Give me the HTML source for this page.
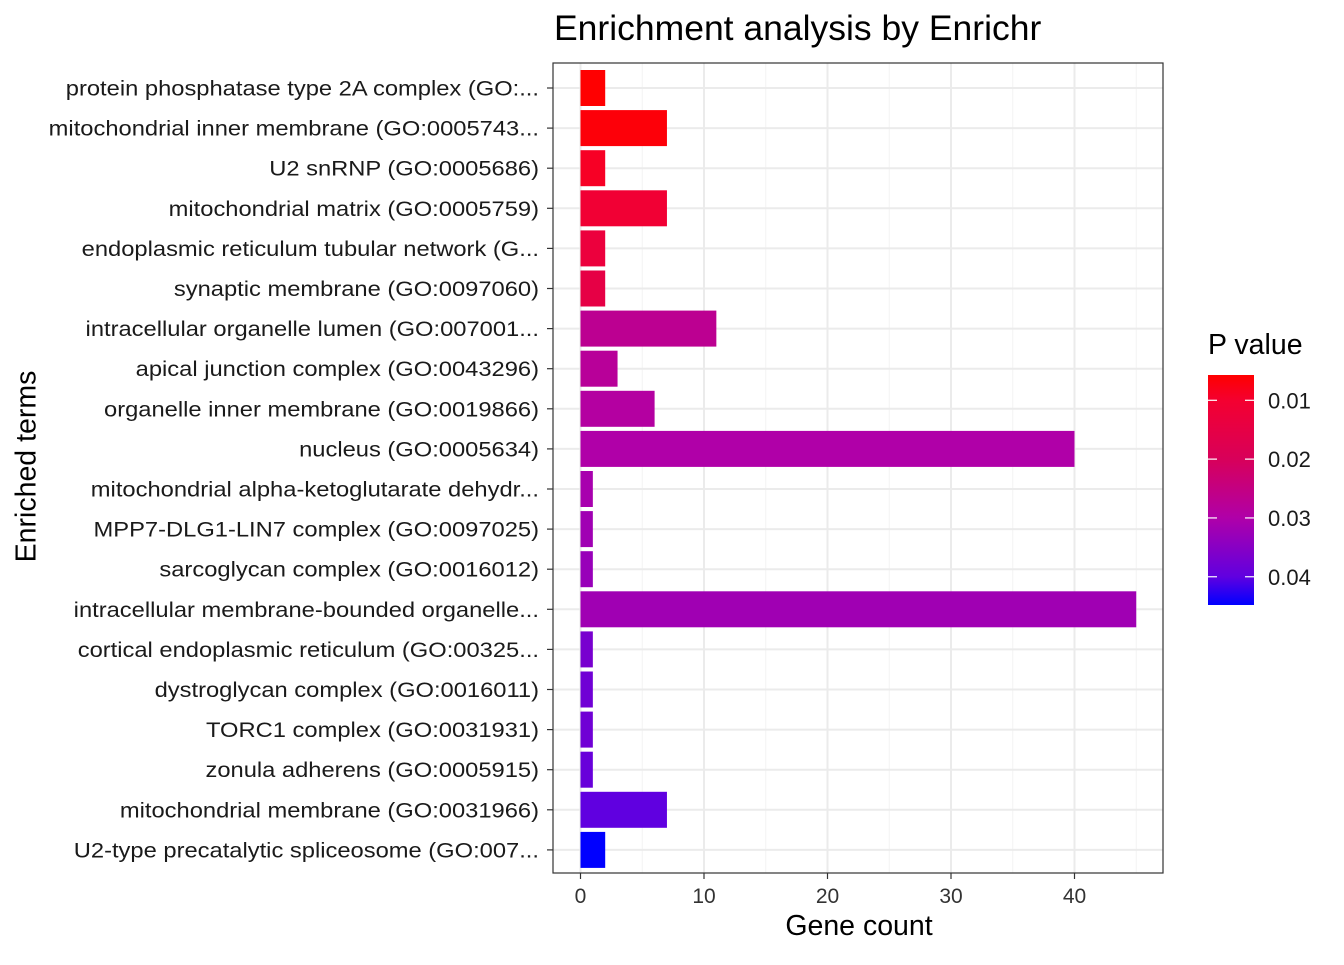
<!DOCTYPE html>
<html><head><meta charset="utf-8"><style>
body{margin:0;background:#fff;font-family:"Liberation Sans",sans-serif}
svg text{font-family:"Liberation Sans",sans-serif}
</style></head><body>
<svg id="chart" width="1344" height="960">
<defs><linearGradient id="cg" x1="0" y1="0" x2="0" y2="1">
<stop offset="0" stop-color="#FF0000"/><stop offset="0.11" stop-color="#F40030"/><stop offset="0.366" stop-color="#D8005A"/><stop offset="0.62" stop-color="#B000A8"/><stop offset="0.877" stop-color="#6000E0"/><stop offset="1" stop-color="#0000FF"/></linearGradient></defs>
<g id="grid"></g><g id="bars"></g><g id="axes"></g>
</svg>
<script>
const terms=["protein phosphatase type 2A complex (GO:...","mitochondrial inner membrane (GO:0005743...","U2 snRNP (GO:0005686)","mitochondrial matrix (GO:0005759)","endoplasmic reticulum tubular network (G...","synaptic membrane (GO:0097060)","intracellular organelle lumen (GO:007001...","apical junction complex (GO:0043296)","organelle inner membrane (GO:0019866)","nucleus (GO:0005634)","mitochondrial alpha-ketoglutarate dehydr...","MPP7-DLG1-LIN7 complex (GO:0097025)","sarcoglycan complex (GO:0016012)","intracellular membrane-bounded organelle...","cortical endoplasmic reticulum (GO:00325...","dystroglycan complex (GO:0016011)","TORC1 complex (GO:0031931)","zonula adherens (GO:0005915)","mitochondrial membrane (GO:0031966)","U2-type precatalytic spliceosome (GO:007..."];
const counts=[2,7,2,7,2,2,11,3,6,40,1,1,1,45,1,1,1,1,7,2];
const pvals=[0.0058,0.0065,0.009,0.011,0.013,0.015,0.027,0.028,0.029,0.030,0.031,0.032,0.033,0.032,0.037,0.038,0.038,0.039,0.040,0.0448];
const xTicks=[0,10,20,30,40];
const legendTicks=[0.01,0.02,0.03,0.04];
const NS="http://www.w3.org/2000/svg";
const X0=553,X1=1163,Y0=63,Y1=873;
const xs=v=>580.5+v*12.35;
const ys=i=>88+40.1*i;
const pMin=0.0057,pMax=0.0448;
const stops=[[0,[255,0,0]],[0.11,[244,0,48]],[0.366,[216,0,90]],[0.62,[176,0,168]],[0.877,[96,0,224]],[1,[0,0,255]]];
function col(p){let t=Math.max(0,Math.min(1,(p-pMin)/(pMax-pMin)));for(let k=1;k<stops.length;k++){if(t<=stops[k][0]){const a=stops[k-1],b=stops[k],f=(t-a[0])/(b[0]-a[0]);return "rgb("+a[1].map((c,j)=>Math.round(c+(b[1][j]-c)*f)).join(",")+")";}}return "rgb(0,0,255)";}
function mk(tag,at,parent,txt){const e=document.createElementNS(NS,tag);for(const k in at)e.setAttribute(k,at[k]);if(txt!==undefined)e.textContent=txt;parent.appendChild(e);return e;}
const G=document.getElementById('grid'),B=document.getElementById('bars'),A=document.getElementById('axes');
mk('rect',{x:X0,y:Y0,width:X1-X0,height:Y1-Y0,fill:'#fff'},G);
for(let v=5;v<=45;v+=10){const l=mk('line',{x1:xs(v),x2:xs(v),y1:Y0,y2:Y1,stroke:'#F3F3F3','stroke-width':1},G);}
xTicks.forEach(v=>{const l=mk('line',{x1:xs(v),x2:xs(v),y1:Y0,y2:Y1,stroke:'#EBEBEB','stroke-width':2},G);});
terms.forEach((t,i)=>{const l=mk('line',{x1:X0,x2:X1,y1:ys(i),y2:ys(i),stroke:'#EBEBEB','stroke-width':2},G);});
terms.forEach((t,i)=>{
const r=mk('rect',{x:xs(0),y:ys(i)-18,width:xs(counts[i])-xs(0),height:36,fill:col(pvals[i])},B);


const tx=mk('text',{x:0,y:0,'text-anchor':'end','font-size':21,fill:'#1a1a1a',transform:'translate(539,'+(ys(i)+7.5)+') scale(1.13,1)'},A,t);


mk('line',{x1:547,x2:553,y1:ys(i),y2:ys(i),stroke:'#333','stroke-width':1.2},A);
});
mk('rect',{x:X0,y:Y0,width:X1-X0,height:Y1-Y0,fill:'none',stroke:'#333','stroke-width':1.2},A);
xTicks.forEach(v=>{mk('line',{x1:xs(v),x2:xs(v),y1:Y1,y2:Y1+6,stroke:'#333','stroke-width':1.2},A);
const t=mk('text',{x:xs(v),y:903,'text-anchor':'middle','font-size':21,fill:'#333'},A,v);

});
const cb=mk('rect',{x:1208,y:375,width:46,height:230,fill:'url(#cg)'},A);


const ly=p=>375+(p-pMin)/(pMax-pMin)*230;
legendTicks.forEach(p=>{mk('line',{x1:1208,x2:1217,y1:ly(p),y2:ly(p),stroke:'#fff','stroke-width':1.2},A);mk('line',{x1:1245,x2:1254,y1:ly(p),y2:ly(p),stroke:'#fff','stroke-width':1.2},A);
const t=mk('text',{x:1268,y:ly(p)+8,'font-size':22,fill:'#1a1a1a'},A,p.toFixed(2));

});
</script>
<div style="position:absolute;left:0;top:0;width:1344px;height:960px;pointer-events:none">
<div style="position:absolute;left:554px;top:8px;font-size:35.5px;color:#000;white-space:nowrap">Enrichment analysis by Enrichr</div>
<div style="position:absolute;left:709px;width:300px;text-align:center;top:910px;font-size:28.5px;white-space:nowrap">Gene count</div>
<div style="position:absolute;left:-123px;top:450px;width:300px;text-align:center;font-size:28.5px;transform:rotate(-90deg);white-space:nowrap">Enriched terms</div>
<div style="position:absolute;left:1208px;top:329px;font-size:28.5px;white-space:nowrap">P value</div>
</div>
</body></html>
